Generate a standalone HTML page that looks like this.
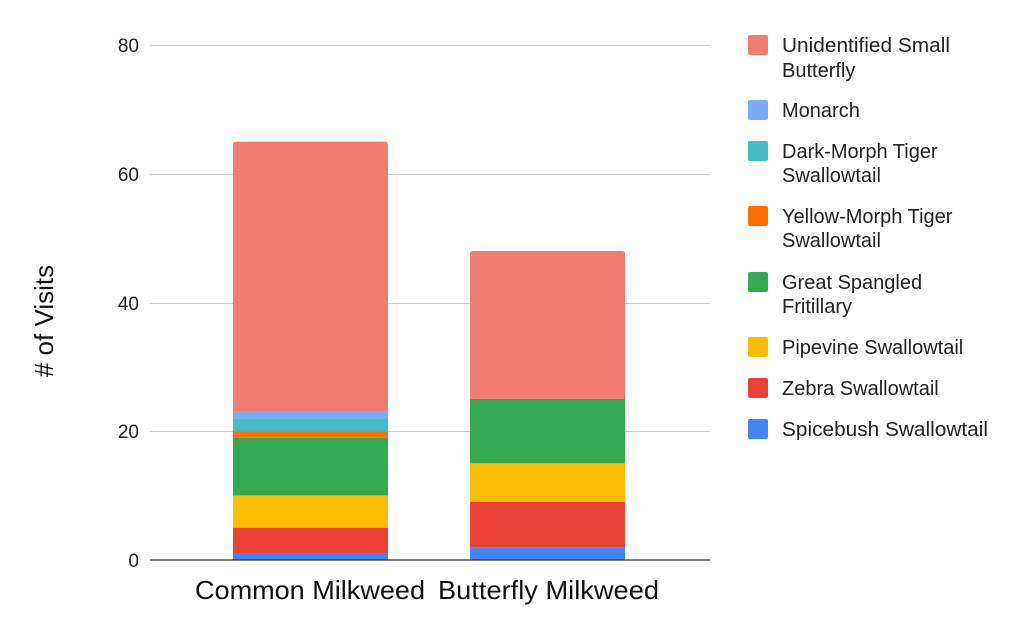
<!DOCTYPE html>
<html><head><meta charset="utf-8"><style>body{margin:0;background:#fff}svg{display:block}</style></head><body>
<svg width="1030" height="637" xmlns="http://www.w3.org/2000/svg" font-family="Liberation Sans, sans-serif">
<g stroke="#d0d0d0" stroke-width="1">
<line x1="150" x2="710" y1="45.5" y2="45.5"/>
<line x1="150" x2="710" y1="174.5" y2="174.5"/>
<line x1="150" x2="710" y1="303.5" y2="303.5"/>
<line x1="150" x2="710" y1="431.5" y2="431.5"/>
</g>
<g font-size="19" fill="#222" text-anchor="end">
<text x="139" y="52">80</text>
<text x="139" y="181">60</text>
<text x="139" y="310">40</text>
<text x="139" y="438">20</text>
<text x="139" y="567">0</text>
</g>
<text transform="translate(53,321) rotate(-90)" font-size="26" text-anchor="middle" fill="#111"># of Visits</text>
<path d="M233,411.9 V144.6 Q233,141.6 236,141.6 H385 Q388,141.6 388,144.6 V411.9 Z" fill="#f07d71"/>
<rect x="233" y="411.9" width="155" height="6.5" fill="#7baaf7"/>
<rect x="233" y="418.4" width="155" height="12.9" fill="#46bdc6"/>
<rect x="233" y="431.3" width="155" height="6.4" fill="#ff6d01"/>
<rect x="233" y="437.7" width="155" height="57.9" fill="#34a853"/>
<rect x="233" y="495.6" width="155" height="32.2" fill="#fbbc04"/>
<rect x="233" y="527.8" width="155" height="25.8" fill="#ea4335"/>
<rect x="233" y="553.6" width="155" height="6.4" fill="#4285f4"/>
<path d="M470,399 V254 Q470,251 473,251 H622 Q625,251 625,254 V399 Z" fill="#f07d71"/>
<rect x="470" y="399" width="155" height="64.4" fill="#34a853"/>
<rect x="470" y="463.4" width="155" height="38.6" fill="#fbbc04"/>
<rect x="470" y="502" width="155" height="45.1" fill="#ea4335"/>
<rect x="470" y="547.1" width="155" height="12.9" fill="#4285f4"/>
<line x1="150" x2="710" y1="560" y2="560" stroke="#333" stroke-width="1.3"/>
<g font-size="26" fill="#111">
<text x="195" y="599" textLength="230" lengthAdjust="spacingAndGlyphs">Common Milkweed</text>
<text x="438" y="599" textLength="221" lengthAdjust="spacingAndGlyphs">Butterfly Milkweed</text>
</g>
<g font-size="20" fill="#222">
<rect x="748" y="35" width="20" height="20" rx="2" fill="#f07d71"/>
<text x="782" y="52" textLength="168" lengthAdjust="spacingAndGlyphs">Unidentified Small</text><text x="782" y="77">Butterfly</text>
<rect x="748" y="100" width="20" height="20" rx="2" fill="#7baaf7"/>
<text x="782" y="117">Monarch</text>
<rect x="748" y="141" width="20" height="20" rx="2" fill="#46bdc6"/>
<text x="782" y="158">Dark-Morph Tiger</text><text x="782" y="182">Swallowtail</text>
<rect x="748" y="206" width="20" height="20" rx="2" fill="#ff6d01"/>
<text x="782" y="223">Yellow-Morph Tiger</text><text x="782" y="247">Swallowtail</text>
<rect x="748" y="272" width="20" height="20" rx="2" fill="#34a853"/>
<text x="782" y="289">Great Spangled</text><text x="782" y="313">Fritillary</text>
<rect x="748" y="337" width="20" height="20" rx="2" fill="#fbbc04"/>
<text x="782" y="354">Pipevine Swallowtail</text>
<rect x="748" y="378" width="20" height="20" rx="2" fill="#ea4335"/>
<text x="782" y="395">Zebra Swallowtail</text>
<rect x="748" y="419" width="20" height="20" rx="2" fill="#4285f4"/>
<text x="782" y="436" textLength="206" lengthAdjust="spacingAndGlyphs">Spicebush Swallowtail</text>
</g>
</svg>
</body></html>
